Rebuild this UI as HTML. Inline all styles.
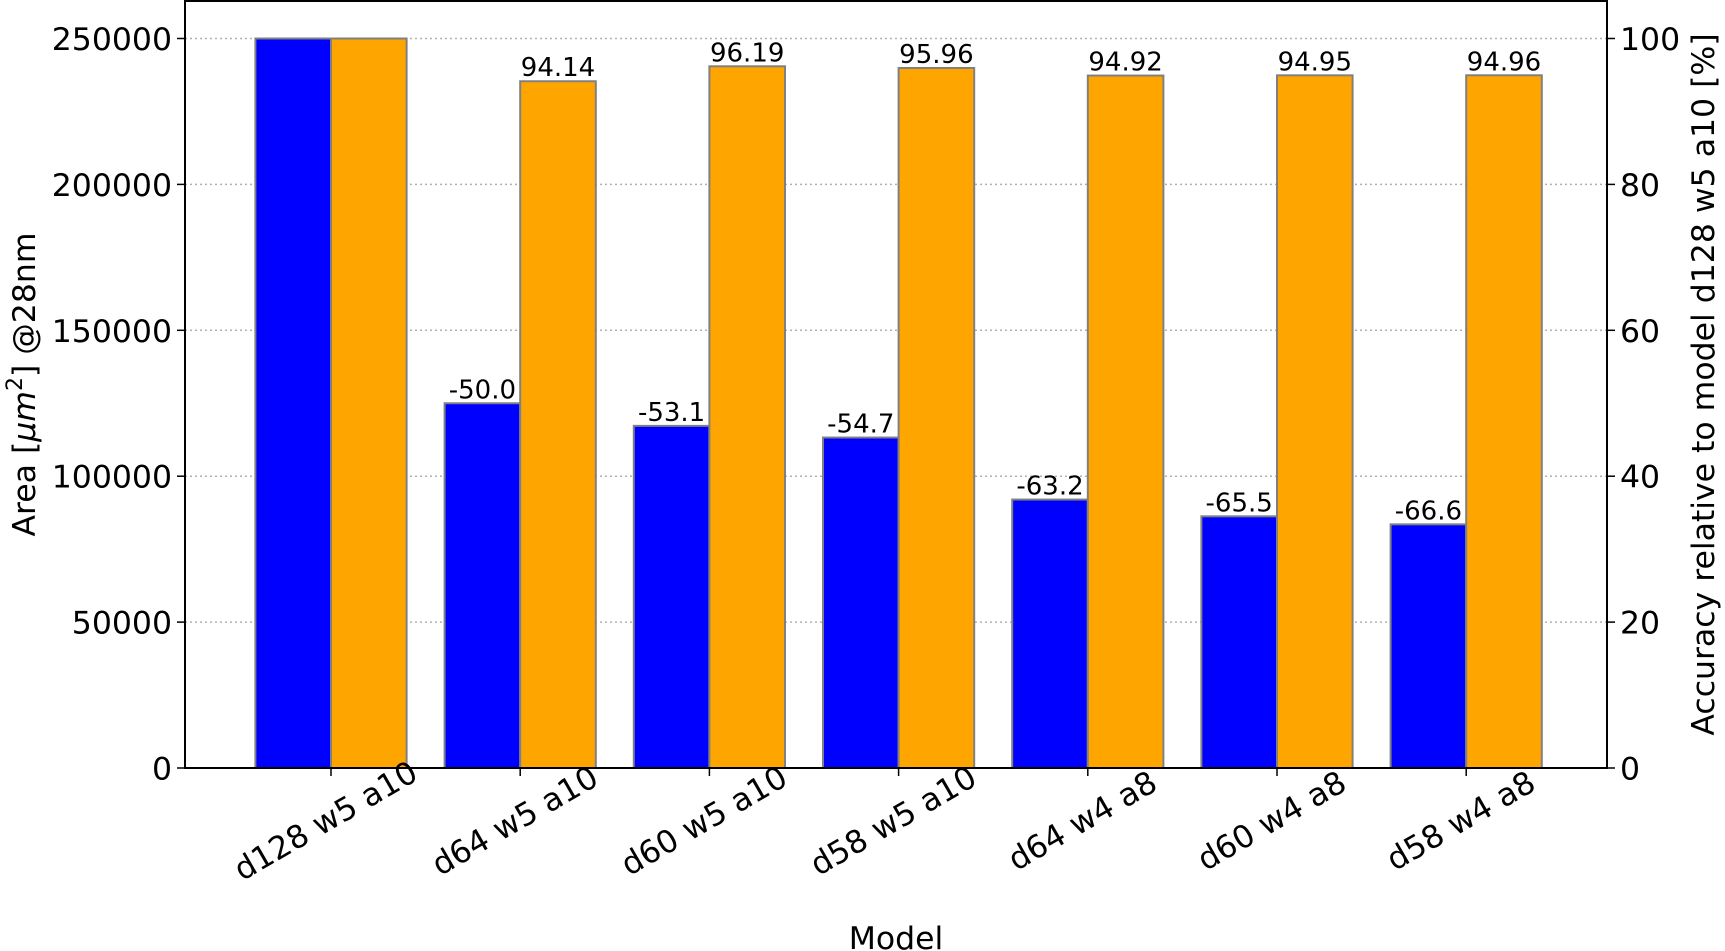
<!DOCTYPE html>
<html><head><meta charset="utf-8"><style>
html,body{margin:0;padding:0;background:#fff;}
svg{display:block;font-family:"DejaVu Sans","Liberation Sans",sans-serif;}
</style></head><body>
<svg id="chart" width="1725" height="951" xmlns="http://www.w3.org/2000/svg"></svg>
<script>
const categories=["d128 w5 a10","d64 w5 a10","d60 w5 a10","d58 w5 a10","d64 w4 a8","d60 w4 a8","d58 w4 a8"];
const areaValues=[250000,125000,117250,113250,92000,86250,83500];
const areaLabels=["","-50.0","-53.1","-54.7","-63.2","-65.5","-66.6"];
const accValues=[100,94.14,96.19,95.96,94.92,94.95,94.96];
const accLabels=["","94.14","96.19","95.96","94.92","94.95","94.96"];
const leftTicks=[0,50000,100000,150000,200000,250000];
const rightTicks=[0,20,40,60,80,100];

const NS="http://www.w3.org/2000/svg";
const svg=document.getElementById('chart');
const L=185,R=1607,T=1,B=768;
const yL=v=>B-(v/250000)*(B-38.5);
const yR=v=>B-(v/100)*(B-38.5);
const xC=i=>331+i*189.2;
const bw=75.6;
function mk(tag,attrs,text){const e=document.createElementNS(NS,tag);for(const k in attrs)e.setAttribute(k,attrs[k]);if(text!==undefined)e.textContent=text;svg.appendChild(e);return e;}

leftTicks.forEach(t=>{
  if(t>0){const g=mk('line',{x1:L,x2:R,y1:yL(t),y2:yL(t),stroke:'#b0b0b0','stroke-width':1.5,'stroke-dasharray':'2,3'});
  
  }
  const tk=mk('line',{x1:L-8,x2:L,y1:yL(t),y2:yL(t),stroke:'#000','stroke-width':1.5});
  
  
  const tl=mk('text',{x:L-13,y:yL(t)+11.5,'text-anchor':'end','font-size':31.5},String(t));
  
  
});
rightTicks.forEach(t=>{
  const tk=mk('line',{x1:R,x2:R+8,y1:yR(t),y2:yR(t),stroke:'#000','stroke-width':1.5});
  
  
  const tl=mk('text',{x:R+13,y:yR(t)+11.5,'text-anchor':'start','font-size':31.5},String(t));
  
  
});
categories.forEach((c,i)=>{
  const x=xC(i);
  const b=mk('rect',{x:x-bw,y:yL(areaValues[i]),width:bw,height:B-yL(areaValues[i]),fill:'#0000ff',stroke:'#808080','stroke-width':2});
  
  
  const o=mk('rect',{x:x,y:yR(accValues[i]),width:bw,height:B-yR(accValues[i]),fill:'#ffa500',stroke:'#808080','stroke-width':2});
  
  
  if(areaLabels[i]){const t=mk('text',{x:x-bw/2,y:yL(areaValues[i])-5,'text-anchor':'middle','font-size':26},areaLabels[i]);
  
  }
  if(accLabels[i]){const t=mk('text',{x:x+bw/2,y:yR(accValues[i])-5,'text-anchor':'middle','font-size':26},accLabels[i]);
  
  }
  const tk=mk('line',{x1:x,x2:x,y1:B,y2:B+8,stroke:'#000','stroke-width':1.5});
  
  
  const tl=mk('text',{x:0,y:0,'text-anchor':'middle','font-size':31.5,transform:`translate(${x},${B+62}) rotate(-30)`},c);
  
  
});
const fr=mk('rect',{x:L,y:T,width:R-L,height:B-T,fill:'none',stroke:'#000','stroke-width':2});


const xt=mk('text',{x:(L+R)/2,y:949,'text-anchor':'middle','font-size':31.5},'Model');


const yt=mk('text',{x:0,y:0,'text-anchor':'middle','font-size':31.5,transform:`translate(35,${(T+B)/2}) rotate(-90)`});


yt.innerHTML='Area [<tspan font-style="italic">μm</tspan><tspan dy="-13" font-size="22">2</tspan><tspan dy="13">] @28nm</tspan>';
const rt=mk('text',{x:0,y:0,'text-anchor':'middle','font-size':31.5,transform:`translate(1714,${(T+B)/2}) rotate(-90)`},'Accuracy relative to model d128 w5 a10 [%]');


</script>
</body></html>
